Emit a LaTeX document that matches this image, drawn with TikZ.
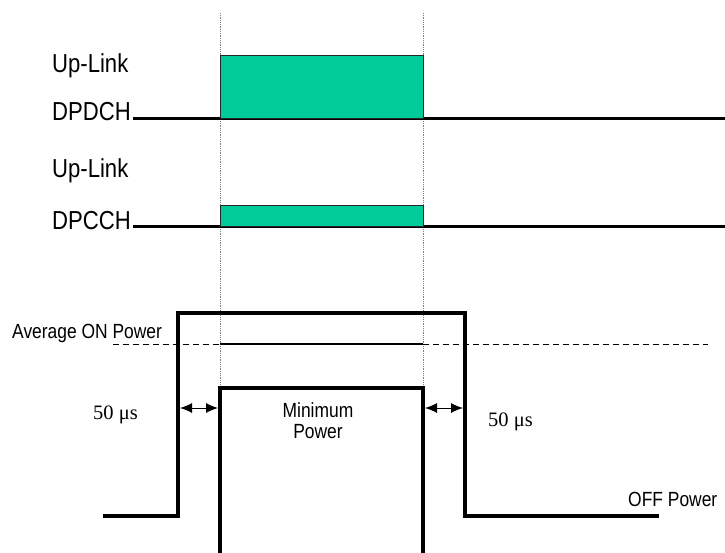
\documentclass[tikz,border=0pt]{standalone}
\usepackage{fontspec}
\setmainfont{Liberation Sans}[FakeStretch=0.85]
\newfontfamily\timesfont{Liberation Serif}
\usepackage{xcolor}
\usepackage{tikz}
\usetikzlibrary{positioning, calc, arrows.meta}
\definecolor{chan}{RGB}{0,204,153}

\begin{document}
\begin{tikzpicture}[x=1pt, y=-1pt, >={Latex[length=12pt,width=10pt]},
    sig/.style={line width=3pt},
    wave/.style={line width=4pt, line join=miter},
    guide/.style={densely dotted, gray, line width=0.8pt},
    burst/.style={fill=chan, draw=black!85, line width=1pt},
    lbl/.style={inner sep=0pt, anchor=base west},
    big/.style={font=\fontsize{26}{30}\selectfont},
    mid/.style={font=\fontsize{20.5}{24}\selectfont},
    us/.style={font=\timesfont\fontsize{20.5}{24}\selectfont}]
        \useasboundingbox (0,0) rectangle (725,553);

        % Define slot edges
        \coordinate (T1) at (220,13);
        \coordinate (T2) at (423,13);
        \coordinate (B1) at (220,388);
        \coordinate (B2) at (423,388);

        % Draw dotted slot guides
        \draw[guide] (T1) -- (B1);
        \draw[guide] (T2) -- (B2);

        % Draw up-link DPDCH
        \node[lbl, big] (ul1) at (52,73) {Up-Link};
        \node[lbl, big] (dpdch) at (52,121) {DPDCH};
        \coordinate (d0) at (133,119);
        \coordinate (d1) at (725,119);
        \draw[sig] (d0) -- (d1);
        \draw[burst] (220,56) rectangle (423,119);

        % Draw up-link DPCCH
        \node[lbl, big] (ul2) at (52,178) {Up-Link};
        \node[lbl, big] (dpcch) at (52,230) {DPCCH};
        \coordinate (c0) at (133,227);
        \coordinate (c1) at (725,227);
        \draw[sig] (c0) -- (c1);
        \draw[burst] (220,206) rectangle (423,227);

        % Define power levels
        \coordinate (o1) at (103,516);
        \coordinate (o2) at (178,516);
        \coordinate (o3) at (178,313);
        \coordinate (o4) at (465,313);
        \coordinate (o5) at (465,516);
        \coordinate (o6) at (659,516);
        \coordinate (i1) at (220,553);
        \coordinate (i4) at (423,553);

        % Draw average ON power
        \node[lbl, mid] (avg) at (12,338) {Average ON Power};
        \draw[dashed, dash pattern=on 6pt off 4pt, line width=0.9pt] (113,344) -- (708,344);
        \draw[line width=2pt] (220,344) -- (423,344);

        % Draw outer power envelope
        \draw[wave] (o1) -- (o2) -- (o3) -- (o4) -- (o5) -- (o6);

        % Draw minimum power step
        \draw[wave] (i1) -- (B1) -- (B2) -- (i4);
        \node[inner sep=0pt, anchor=base, mid] (minp) at (318,417) {Minimum};
        \node[inner sep=0pt, anchor=base, mid] (minq) at (318,438) {Power};

        % Draw 50 us gaps
        \draw[<->, line width=1pt] (180,408) -- (218,408);
        \draw[<->, line width=1pt] (425,408) -- (463,408);
        \node[lbl, us] (gapl) at (93,419) {50 μs};
        \node[lbl, us] (gapr) at (488,426) {50 μs};

        % Label OFF power
        \node[lbl, mid] (off) at (628,506) {OFF Power};
    \end{tikzpicture}
\end{document}
